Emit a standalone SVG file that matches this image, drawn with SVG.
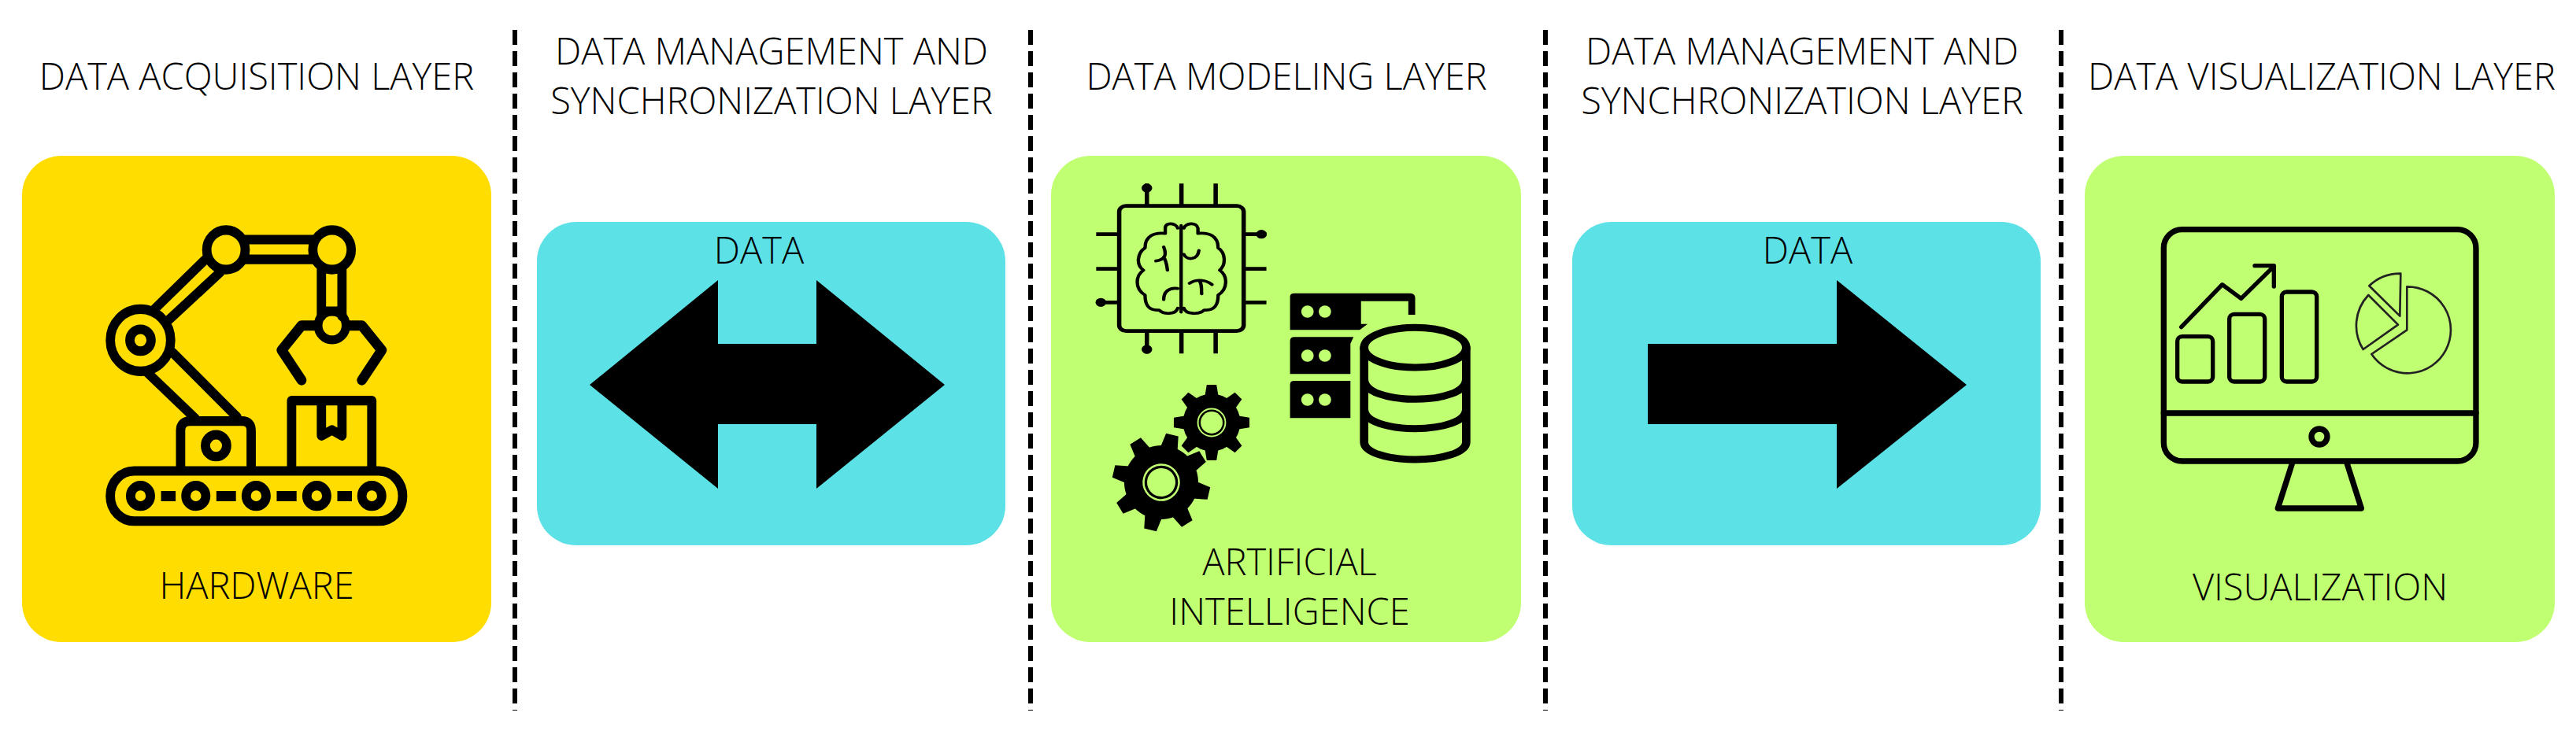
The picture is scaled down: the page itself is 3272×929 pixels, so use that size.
<svg xmlns="http://www.w3.org/2000/svg" width="3272" height="929" viewBox="0 0 3272 929">
<style>
text{font-family:"Open Sans","Noto Sans","Liberation Sans",sans-serif;font-weight:300;font-size:47px;fill:#000;text-anchor:middle}
.s{fill:none;stroke:#000;stroke-linecap:round;stroke-linejoin:round}
.div{stroke:#000;stroke-width:6;stroke-dasharray:19 8;fill:none}
.g{fill:#C1FF72}.c{fill:#5CE1E6}.y{fill:#FFDD00}
</style>
<defs>
<path id="tooth" d="M-11 -44L-8 -62H8L11 -44Z"/>
<g id="gear">
<circle r="47"/>
<use href="#tooth"/><use href="#tooth" transform="rotate(45)"/><use href="#tooth" transform="rotate(90)"/><use href="#tooth" transform="rotate(135)"/><use href="#tooth" transform="rotate(180)"/><use href="#tooth" transform="rotate(225)"/><use href="#tooth" transform="rotate(270)"/><use href="#tooth" transform="rotate(315)"/>
<circle r="22.5" fill="none" stroke="#C1FF72" stroke-width="2.5"/>
<circle class="g" r="18"/>
</g>
</defs>
<rect width="3272" height="929" fill="#fff"/>
<g id="dividers">
<path class="div" d="M654 38V903M1309 38V903M1963 38V903M2618 38V903"/>
</g>
<g id="layer-titles">
<text x="326" y="114">DATA ACQUISITION LAYER</text>
<text x="980" y="82">DATA MANAGEMENT AND</text>
<text x="980" y="145">SYNCHRONIZATION LAYER</text>
<text x="1634" y="114">DATA MODELING LAYER</text>
<text x="2289" y="82">DATA MANAGEMENT AND</text>
<text x="2289" y="145">SYNCHRONIZATION LAYER</text>
<text x="2949" y="114">DATA VISUALIZATION LAYER</text>
</g>
<g id="hardware">
<rect class="y" x="28" y="198" width="596" height="618" rx="50"/>
<g transform="translate(0 170) scale(.4209 .4337)">
<g class="s" stroke-width="28">
<circle cx="682" cy="340" r="58"/><circle cx="1002" cy="340" r="58"/>
<path d="M740 310H945M740 368H945M970 395V535M1032 395V535M985 520H1018"/>
<circle cx="1002" cy="562" r="42" stroke-width="26"/>
<path d="M950 562H910L850 634L910 722M1055 562H1092L1152 634L1092 722" stroke-width="30"/>
<circle cx="424" cy="605" r="91"/><circle cx="424" cy="605" r="32"/>
<path d="M465 515L620 368M510 545L665 405M445 700L590 835M520 640L715 830"/>
<path d="M545 975V870Q545 842 575 842H730Q758 842 758 870V975"/>
<circle cx="652" cy="914" r="32"/>
<path d="M880 975V782H1122V975M970 790V885L1002 868L1032 885V790"/>
<rect x="333" y="988" width="882" height="147" rx="72"/>
<circle cx="424" cy="1061" r="30"/><circle cx="591" cy="1061" r="30"/><circle cx="773" cy="1061" r="30"/><circle cx="956" cy="1061" r="30"/><circle cx="1122" cy="1061" r="30"/>
</g>
<path d="M486 1047H530V1077H486ZM653 1047H712V1077H653ZM835 1047H895V1077H835ZM1018 1047H1062V1077H1018Z"/>
</g>
<text x="326" y="761">HARDWARE</text>
</g>
<g id="data-bidirectional">
<rect class="c" x="682" y="282" width="595" height="411" rx="50"/>
<text x="964" y="335">DATA</text>
</g>
<g id="artificial-intelligence">
<rect class="g" x="1335" y="198" width="597" height="618" rx="50"/>
<g transform="translate(1320 190) scale(.3953 .3333)">
<g class="s" stroke-width="14">
<rect x="257" y="215" width="400" height="477" rx="22"/>
<path d="M346 130V215M457 130V215M567 130V215M346 692V778M457 692V778M567 692V778M183 323H257M183 455H257M183 583H257M657 323H730M657 455H730M657 583H730" stroke-linecap="butt"/>
<path stroke-width="11" d="M456 290V620M445 300C440 280 405 275 405 300V320C370 315 340 330 340 375C315 395 310 440 335 460C310 480 305 530 340 555C340 590 350 615 385 612C400 630 440 630 445 605M400 372C410 400 405 420 375 425M400 410C410 430 410 445 412 460M445 530C415 525 400 545 400 572M465 300C470 280 505 275 510 300V320C545 315 575 330 575 375C600 395 600 440 580 460C605 480 608 530 575 555C575 590 565 615 530 612C515 630 470 630 465 605M465 400C475 425 510 420 513 385M483 510C510 490 540 500 555 515M515 500C525 520 520 535 522 550"/>
</g>
<circle cx="346" cy="147" r="17"/><circle cx="714" cy="323" r="17"/><circle cx="198" cy="583" r="17"/><circle cx="346" cy="762" r="17"/>
<path d="M806 560Q806 548 820 548H1190Q1208 548 1208 565V630H1186V578H1034V665H1055L1030 688H806ZM806 730Q806 715 820 715H1010L1000 740V856H806ZM806 895Q806 882 820 882H1000V1024H806Z"/>
<g class="g"><ellipse cx="862" cy="618" rx="20" ry="23"/><ellipse cx="918" cy="618" rx="20" ry="23"/><ellipse cx="862" cy="786" rx="20" ry="23"/><ellipse cx="918" cy="786" rx="20" ry="23"/><ellipse cx="862" cy="954" rx="20" ry="23"/><ellipse cx="918" cy="954" rx="20" ry="23"/></g>
<g class="s" stroke-width="27">
<ellipse cx="1208" cy="755" rx="164" ry="76"/>
<path d="M1044 755V1115C1044 1155 1120 1182 1208 1182C1296 1182 1372 1155 1372 1115V755M1044 875C1044 925 1120 952 1208 952C1296 952 1372 925 1372 875M1044 990C1044 1037 1120 1064 1208 1064C1296 1064 1372 1037 1372 990"/>
</g>
</g>
<use id="gear-large" href="#gear" transform="translate(1475 613) rotate(13)"/>
<use id="gear-small" href="#gear" transform="translate(1539 537) scale(.775)"/>
<text x="1638" y="731">ARTIFICIAL</text>
<text x="1638" y="794">INTELLIGENCE</text>
</g>
<g id="data-forward">
<rect class="c" x="1997" y="282" width="595" height="411" rx="50"/>
<text x="2296" y="335">DATA</text>
</g>
<g id="visualization">
<rect class="g" x="2648" y="198" width="597" height="618" rx="50"/>
<g transform="translate(2680 260) scale(.3333)">
<g class="s" stroke-width="22">
<rect x="205" y="95" width="1190" height="883" rx="70"/>
<path d="M205 795H1395M695 985L640 1158H958L903 985"/>
<circle cx="798" cy="885" r="30"/>
</g>
<g class="s" stroke-width="16">
<rect x="257" y="503" width="135" height="172" rx="18"/><rect x="455" y="418" width="135" height="257" rx="18"/><rect x="655" y="333" width="133" height="342" rx="18"/>
<path d="M272 467L428 305L500 358L625 235M552 233H625V312"/>
</g>
<g class="s" stroke-width="8" style="stroke:#222">
<path d="M1132 313A165 165 0 1 1 997 570L1132 478ZM985 345A170 170 0 0 0 965 552L1098 458ZM988 310A170 170 0 0 1 1108 263L1105 425Z"/>
</g>
</g>
<text x="2947" y="763">VISUALIZATION</text>
</g>
<g id="connectors">
<path d="M749 489L912 356V437H1037V356L1200 489L1037 621V539H912V621Z"/>
<path d="M2093 437H2333V356L2498 489L2333 621V539H2093Z"/>
</g>
</svg>
